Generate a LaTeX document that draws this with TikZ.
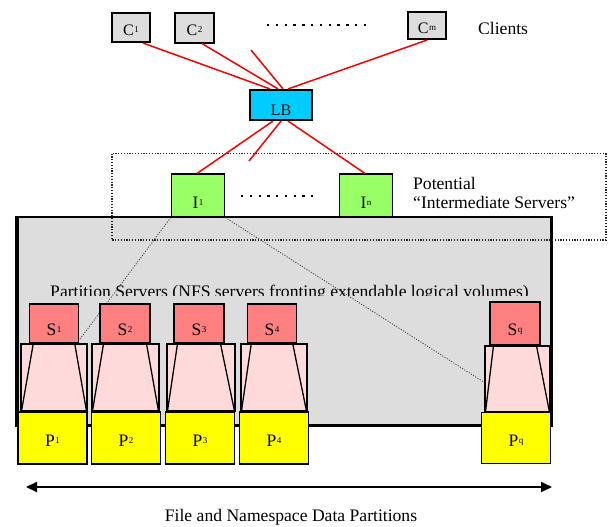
\documentclass[tikz,border=0pt]{standalone}
\usepackage{fontspec}
\setmainfont{Liberation Serif}
\usetikzlibrary{arrows.meta,calc}
\definecolor{cgrey}{HTML}{DDDDDD}
\definecolor{lbcyan}{HTML}{00CCFF}
\definecolor{igreen}{HTML}{99FF66}
\definecolor{ssalmon}{HTML}{FF8080}
\definecolor{vpink}{HTML}{FFDADA}
\definecolor{pyellow}{HTML}{FFFF00}
\definecolor{linkred}{HTML}{FF0000}
\newcommand\lsub[1]{\hspace{0.6pt}\raisebox{3pt}{\fontsize{9}{9}\selectfont #1}}
\pgfdeclarelayer{bottomlayer}
\pgfdeclarelayer{middlelayer}
\pgfsetlayers{bottomlayer,middlelayer,main}
\tikzset{
  box/.style={draw=black, line width=1.6pt, inner sep=0pt, text depth=0pt, anchor=center},
  cbox/.style={box, fill=cgrey, font=\fontsize{16}{16}\selectfont, text height=15.6pt},
  lbbox/.style={box, fill=lbcyan, font=\fontsize{16}{16}\selectfont, text height=20.6pt},
  ibox/.style={box, fill=igreen, font=\fontsize{17.5}{17.5}\selectfont, text height=26.6pt},
  sbox/.style={box, fill=ssalmon, font=\fontsize{17.5}{17.5}\selectfont, text height=24.6pt},
  pbox/.style={box, fill=pyellow, font=\fontsize{17.5}{17.5}\selectfont, text height=17.6pt},
  vbox/.style={draw=black, line width=1.2pt, fill=vpink, inner sep=0pt, anchor=center},
  trap/.style={draw=black, line width=1.3pt},
  link/.style={draw=linkred, line width=1.5pt},
  hint/.style={draw=black!75, line width=0.9pt, dash pattern=on 1pt off 1.6pt},
  txt/.style={inner sep=0pt, font=\fontsize{17.6}{17.6}\selectfont},
  dotrow/.style={line width=2.4pt, dash pattern=on 2.4pt off 6.4pt},
}
\begin{document}
\begin{tikzpicture}[x=1pt,y=-1pt]
\useasboundingbox (0,0) rectangle (608,527);

% grey partition-server area
\begin{pgfonlayer}{bottomlayer}
  \fill[cgrey] (15,217) rectangle (552,425);
  \draw[line width=2pt] (15,217) -- (552,217);
  \draw[line width=4pt] (17,216) -- (17,427);
  \draw[line width=3pt] (551,216) -- (551,427);
  \draw[line width=3pt] (15,425.5) -- (552,425.5);
\end{pgfonlayer}

% clients
\node[cbox, minimum width=38.5pt, minimum height=29.5pt] (C1) at (131,27.5) {C\lsub{1}};
\node[cbox, minimum width=39.5pt, minimum height=29.5pt] (C2) at (194.5,28) {C\lsub{2}};
\node[cbox, minimum width=38.5pt, minimum height=27.5pt] (Cm) at (427,25.5) {C\lsub{m}};
\coordinate (cdotsA) at (267,25);
\coordinate (cdotsB) at (370,25);
\draw[dotrow] (cdotsA) -- (cdotsB);
\begin{scope}
  \clip (470,0) rectangle (545,33.4);
  \node[txt, anchor=base west] (clients) at (478,35) {Clients};
\end{scope}

% load balancer
\node[lbbox, minimum width=62.5pt, minimum height=30.5pt] (LB) at (281,105) {LB};

% intermediate servers
\node[ibox, minimum width=53pt, minimum height=42.5pt] (I1) at (198,195.5) {I\lsub{1}};
\node[ibox, minimum width=53pt, minimum height=42.5pt] (In) at (366,195.5) {I\lsub{n}};
\coordinate (idotsA) at (241,196);
\coordinate (idotsB) at (314,196);
\draw[dotrow, dash pattern=on 2.4pt off 6.35pt] (idotsA) -- (idotsB);
\node[txt, anchor=base west] (pot1) at (413,189) {Potential};
\node[txt, anchor=base west] (pot2) at (413,208.5) {“Intermediate Servers”};

% partition text
\begin{scope}
  \clip (30,270) rectangle (560,295.2);
  \node[txt, anchor=base] (ptext) at (289.5,297.5) {Partition Servers (NFS servers fronting extendable logical volumes)};
\end{scope}

% volumes (pink)
\node[vbox, minimum width=66pt, minimum height=67pt] (V1) at (54,377.5) {};
\node[vbox, minimum width=67pt, minimum height=67pt] (V2) at (125.5,377.5) {};
\node[vbox, minimum width=68pt, minimum height=67pt] (V3) at (201,377.5) {};
\node[vbox, minimum width=66pt, minimum height=67pt] (V4) at (274,377.5) {};
\node[vbox, minimum width=65pt, minimum height=66pt] (Vq) at (517.5,379) {};

% partition servers
\node[sbox, minimum width=49pt, minimum height=39.5pt] (S1) at (54,323.5) {S\lsub{1}};
\node[sbox, minimum width=50.5pt, minimum height=39.5pt] (S2) at (125,323.5) {S\lsub{2}};
\node[sbox, minimum width=50.5pt, minimum height=39.5pt] (S3) at (199,323.5) {S\lsub{3}};
\node[sbox, minimum width=49pt, minimum height=39.5pt] (S4) at (272,323.5) {S\lsub{4}};
\node[sbox, minimum width=50.5pt, minimum height=43.5pt] (Sq) at (515,323.5) {S\lsub{q}};

% trapezoid sides
\foreach \s/\v in {S1/V1,S2/V2,S3/V3,S4/V4,Sq/Vq}{
  \draw[trap] ([xshift=4.5pt]\s.south west) -- ([xshift=1pt]\v.south west);
  \draw[trap] ([xshift=-4.5pt]\s.south east) -- ([xshift=-1pt]\v.south east);
}

% data partitions
\node[pbox, minimum width=69pt, minimum height=52.5pt] (P1) at (52.5,438) {P\lsub{1}};
\node[pbox, minimum width=69pt, minimum height=52.5pt] (P2) at (126,438) {P\lsub{2}};
\node[pbox, minimum width=69pt, minimum height=52.5pt] (P3) at (200,438) {P\lsub{3}};
\node[pbox, minimum width=69pt, minimum height=52.5pt] (P4) at (274,438) {P\lsub{4}};
\node[pbox, minimum width=69pt, minimum height=51pt] (Pq) at (516,438) {P\lsub{q}};

% dotted boundary of potential intermediate servers, hint lines
\begin{pgfonlayer}{middlelayer}
  \draw[black!85, line width=1.2pt, dash pattern=on 1.2pt off 1.6pt] (112,153.5) rectangle (606,240);
  \draw[hint] (I1.south west) -- ([yshift=4pt]S1.south east);
  \draw[hint] (I1.south east) -- ([yshift=-3.5pt]Vq.west);
\end{pgfonlayer}

% red links
\coordinate (stray1) at (251,50);
\coordinate (stray2) at (249,161);
\draw[link] ([xshift=12pt]C1.south) -- ([xshift=-11pt]LB.north);
\draw[link] ([xshift=7.5pt]C2.south) -- ([xshift=-3pt]LB.north);
\draw[link] (stray1) -- ([xshift=2pt]LB.north);
\draw[link] (Cm.south) -- ([xshift=7pt]LB.north);
\draw[link] ([xshift=-8pt]LB.south) -- ([xshift=-1pt]I1.north);
\draw[link] (LB.south) -- (stray2);
\draw[link] ([xshift=7pt]LB.south) -- ([xshift=-1pt]In.north);

% arrow
\coordinate (arrA) at (26,487);
\coordinate (arrB) at (552,487);
\draw[line width=1.8pt, {Triangle[length=11pt,width=10pt]}-{Triangle[length=11pt,width=10pt]}] (arrA) -- (arrB);
\node[txt, anchor=base] (ftext) at (291,521) {File and Namespace Data Partitions};
\end{tikzpicture}
\end{document}
